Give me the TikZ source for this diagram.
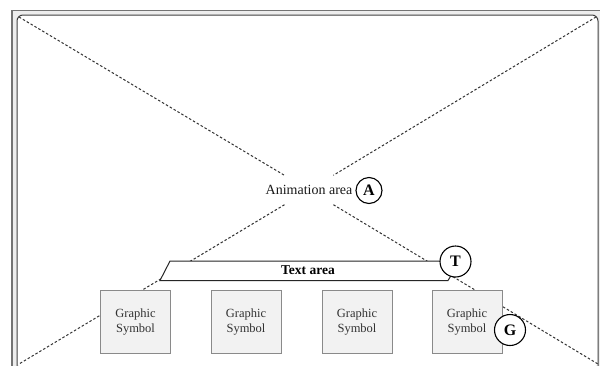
\documentclass[tikz,border=0pt]{standalone}
\usepackage{fontspec}
\setmainfont{Liberation Serif}
\definecolor{dashcol}{HTML}{333333}
\definecolor{boxfill}{HTML}{F2F2F2}
\definecolor{boxline}{HTML}{8A8A8A}
\begin{document}
\begin{tikzpicture}[x=1pt,y=-1pt,
  dashline/.style={draw=dashcol,line width=1pt,dash pattern=on 2.5pt off 2pt},
  symbox/.style={draw=boxline,fill=boxfill,line width=0.9pt,minimum width=70pt,minimum height=63pt,
    inner sep=0pt,align=center,text=black!80,font=\fontsize{12.5}{15}\selectfont},
  marker/.style={circle,draw=black,fill=white,line width=1.1pt,minimum size=31pt,inner sep=0pt,
    font=\fontsize{16}{18}\selectfont\bfseries}]
\useasboundingbox (0,0) rectangle (600,365);
% outer frame
\fill[black!7] (12,10.5) rectangle (602,367);
\draw[black!55,line width=1.2pt] (12,367) -- (12,10.5) -- (602,10.5);
\fill[white,rounded corners=6pt] (17,367) -- (17,15) -- (598,15) -- (598,367) -- cycle;
\draw[black!75,line width=1pt,rounded corners=6pt] (17,367) -- (17,15) -- (598,15) -- (598,367);
% corners
\coordinate (tl) at (19,17);
\coordinate (tr) at (596,17);
\coordinate (bl) at (19,364);
\coordinate (br) at (598,364);
% centre label
\node[minimum width=86pt,minimum height=29pt,inner sep=0pt,font=\fontsize{14}{16}\selectfont,text=black!90]
  (anim) at (309,190) {Animation area};
\draw[dashline] (tl) -- (anim);
\draw[dashline] (anim) -- (br);
\draw[dashline] (tr) -- (anim);
\draw[dashline] (anim) -- (bl);
\node[marker,minimum size=26pt] (A) at (369,190.5) {A};
% text area
\coordinate (ta1) at (160,280.5);
\coordinate (ta2) at (170,261);
\coordinate (ta3) at (460,261);
\coordinate (ta4) at (448,280.5);
\draw[fill=white,line width=1pt,draw=black!85] (ta1) -- (ta2) -- (ta3) -- (ta4) -- cycle;
\node[font=\fontsize{13.5}{15}\selectfont\bfseries] (txt) at (308,270.5) {Text area};
\node[marker] (T) at (455.5,261.5) {T};
% graphic symbols
\node[symbox] (g1) at (135.5,322) {Graphic\\Symbol};
\node[symbox] (g2) at (246,322) {Graphic\\Symbol};
\node[symbox] (g3) at (357,322) {Graphic\\Symbol};
\node[symbox] (g4) at (467,322) {Graphic\\Symbol};
\node[marker] (G) at (510,330) {G};
\end{tikzpicture}
\end{document}
